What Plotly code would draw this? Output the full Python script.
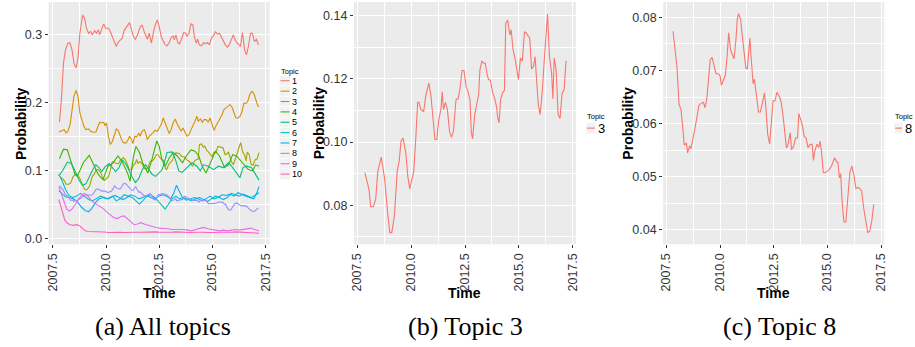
import plotly.graph_objects as go

# ---------------------------------------------------------------- data
topic_names = ["1", "2", "3", "4", "5", "6", "7", "8", "9", "10"]
topic_colors = ["#F8766D", "#D89000", "#A3A500", "#39B600", "#00BF7D",
                "#00BFC4", "#00B0F6", "#9590FF", "#E76BF3", "#FF62BC"]

x_tick_labels = ["2007.5", "2010.0", "2012.5", "2015.0", "2017.5"]
x_minor = [2008.75, 2011.25, 2013.75, 2016.25]
y_ticks_all = ["0.0", "0.1", "0.2", "0.3"]
y_minor_all = [0.05, 0.15, 0.25]
y_ticks_t3 = ["0.08", "0.10", "0.12", "0.14"]
y_minor_t3 = [0.07, 0.09, 0.11, 0.13]
y_ticks_t8 = ["0.04", "0.05", "0.06", "0.07", "0.08"]
y_minor_t8 = [0.045, 0.055, 0.065, 0.075]

t_topic1 = [2007.81, 2007.90, 2008.00, 2008.09, 2008.21, 2008.31, 2008.40, 2008.49, 2008.59, 2008.68,
            2008.77, 2008.90, 2008.99, 2009.08, 2009.18, 2009.27, 2009.36, 2009.46, 2009.55, 2009.64,
            2009.70, 2009.80, 2009.89, 2009.98, 2010.11, 2010.20, 2010.30, 2010.39, 2010.48, 2010.57,
            2010.67, 2010.76, 2010.85, 2010.98, 2011.10, 2011.20, 2011.29, 2011.38, 2011.48, 2011.60,
            2011.69, 2011.79, 2011.88, 2011.94, 2012.03, 2012.13, 2012.22, 2012.31, 2012.41, 2012.50,
            2012.59, 2012.69, 2012.78, 2012.87, 2012.97, 2013.06, 2013.15, 2013.21, 2013.28, 2013.37,
            2013.46, 2013.56, 2013.65, 2013.74, 2013.80, 2013.90, 2013.99, 2014.08, 2014.15, 2014.24,
            2014.30, 2014.39, 2014.49, 2014.58, 2014.67, 2014.77, 2014.86, 2014.95, 2015.05, 2015.14,
            2015.23, 2015.33, 2015.42, 2015.51, 2015.61, 2015.70, 2015.79, 2015.89, 2015.98, 2016.07,
            2016.16, 2016.26, 2016.32, 2016.41, 2016.51, 2016.60, 2016.69, 2016.79, 2016.88, 2016.97,
            2017.07, 2017.16]
p_topic1 = [0.1705, 0.204, 0.2574, 0.277, 0.2868, 0.2868, 0.277, 0.2574, 0.2501, 0.2648,
            0.3014, 0.3283, 0.3234, 0.3087, 0.3014, 0.3039, 0.299, 0.3053, 0.3014, 0.3063,
            0.299, 0.3087, 0.3151, 0.3087, 0.3087, 0.3039, 0.2965, 0.2892, 0.2819, 0.2882,
            0.2906, 0.2941, 0.3053, 0.3112, 0.317, 0.3063, 0.2965, 0.2926, 0.299, 0.3102,
            0.3136, 0.3039, 0.2975, 0.2926, 0.3014, 0.2868, 0.3014, 0.3136, 0.321, 0.3112,
            0.2965, 0.2892, 0.2843, 0.2828, 0.2877, 0.2951, 0.2975, 0.2916, 0.299, 0.2877,
            0.2858, 0.2941, 0.3024, 0.3014, 0.2965, 0.3014, 0.3151, 0.3136, 0.2965, 0.2868,
            0.2926, 0.2843, 0.2828, 0.2877, 0.2858, 0.2877, 0.2843, 0.2941, 0.2975, 0.3039,
            0.300, 0.3014, 0.2955, 0.2916, 0.2843, 0.2809, 0.2843, 0.2916, 0.299, 0.2916,
            0.2868, 0.2843, 0.2819, 0.3024, 0.277, 0.2697, 0.2819, 0.3014, 0.3014, 0.2892,
            0.2926, 0.2843]

t_topic2 = [2007.78, 2007.90, 2008.03, 2008.12, 2008.21, 2008.31, 2008.40, 2008.49, 2008.59, 2008.68,
            2008.77, 2008.87, 2008.96, 2009.05, 2009.18, 2009.27, 2009.39, 2009.52, 2009.61, 2009.70,
            2009.80, 2009.89, 2009.95, 2010.02, 2010.11, 2010.20, 2010.30, 2010.39, 2010.48, 2010.57,
            2010.67, 2010.76, 2010.85, 2010.95, 2011.04, 2011.10, 2011.20, 2011.26, 2011.35, 2011.44,
            2011.54, 2011.60, 2011.69, 2011.79, 2011.85, 2011.94, 2012.03, 2012.13, 2012.22, 2012.31,
            2012.41, 2012.50, 2012.59, 2012.69, 2012.78, 2012.87, 2012.97, 2013.06, 2013.15, 2013.25,
            2013.34, 2013.43, 2013.53, 2013.62, 2013.71, 2013.80, 2013.90, 2013.99, 2014.08, 2014.18,
            2014.27, 2014.33, 2014.43, 2014.52, 2014.61, 2014.71, 2014.80, 2014.89, 2014.98, 2015.08,
            2015.17, 2015.26, 2015.36, 2015.45, 2015.54, 2015.64, 2015.73, 2015.82, 2015.92, 2016.01,
            2016.10, 2016.20, 2016.29, 2016.38, 2016.48, 2016.57, 2016.66, 2016.75, 2016.85, 2016.94,
            2017.03, 2017.13, 2017.19]
p_topic2 = [0.1563, 0.1583, 0.1597, 0.1549, 0.1573, 0.1671, 0.1866, 0.2086, 0.2174, 0.2086,
            0.1842, 0.172, 0.1646, 0.1597, 0.1607, 0.1573, 0.1558, 0.1563, 0.1646, 0.1705,
            0.1695, 0.1705, 0.1656, 0.1695, 0.150, 0.1378, 0.1426, 0.1539, 0.1607, 0.1588,
            0.150, 0.1426, 0.1402, 0.1402, 0.1451, 0.150, 0.1451, 0.1392, 0.150, 0.149,
            0.1549, 0.150, 0.1573, 0.1597, 0.1558, 0.1451, 0.150, 0.1524, 0.1558, 0.1588,
            0.1573, 0.1622, 0.1671, 0.1768, 0.1705, 0.1622, 0.1539, 0.1597, 0.1695, 0.1754,
            0.1685, 0.1622, 0.1573, 0.1622, 0.1558, 0.150, 0.1524, 0.1597, 0.1656, 0.172,
            0.1793, 0.172, 0.1754, 0.1705, 0.1744, 0.1744, 0.1705, 0.1768, 0.1671, 0.1583,
            0.1656, 0.1705, 0.1768, 0.1817, 0.1891, 0.1915, 0.1939, 0.1964, 0.193, 0.1852,
            0.1768, 0.1768, 0.1793, 0.1852, 0.1988, 0.1978, 0.2013, 0.211, 0.2159, 0.2135,
            0.2037, 0.1949, 0.193]

t_topic3 = [2007.85, 2008.04, 2008.12, 2008.24, 2008.35, 2008.45, 2008.61, 2008.76, 2008.92, 2009.01,
            2009.10, 2009.22, 2009.35, 2009.44, 2009.53, 2009.62, 2009.75, 2009.84, 2009.93, 2010.02,
            2010.12, 2010.21, 2010.30, 2010.36, 2010.45, 2010.58, 2010.67, 2010.76, 2010.82, 2010.92,
            2011.01, 2011.10, 2011.19, 2011.28, 2011.38, 2011.44, 2011.50, 2011.59, 2011.68, 2011.78,
            2011.87, 2011.96, 2012.08, 2012.18, 2012.27, 2012.36, 2012.45, 2012.55, 2012.64, 2012.73,
            2012.79, 2012.85, 2012.95, 2013.04, 2013.13, 2013.19, 2013.28, 2013.38, 2013.44, 2013.53,
            2013.59, 2013.68, 2013.78, 2013.87, 2013.96, 2014.02, 2014.08, 2014.15, 2014.24, 2014.33,
            2014.39, 2014.48, 2014.58, 2014.64, 2014.73, 2014.82, 2014.92, 2014.98, 2015.07, 2015.16,
            2015.26, 2015.35, 2015.44, 2015.50, 2015.59, 2015.68, 2015.75, 2015.81, 2015.90, 2015.99,
            2016.08, 2016.18, 2016.27, 2016.33, 2016.42, 2016.52, 2016.58, 2016.64, 2016.73, 2016.82,
            2016.91, 2017.01, 2017.10, 2017.19]
p_topic3 = [0.0903, 0.085, 0.0795, 0.0795, 0.0818, 0.0908, 0.0952, 0.0887, 0.0766, 0.0713,
            0.0713, 0.0766, 0.0908, 0.0939, 0.1003, 0.1013, 0.0966, 0.0892, 0.0852, 0.0881,
            0.0908, 0.1008, 0.1126, 0.1126, 0.1103, 0.1097, 0.1145, 0.1171, 0.1187, 0.1145,
            0.1061, 0.1008, 0.1008, 0.1071, 0.1103, 0.1159, 0.1103, 0.1126, 0.1103, 0.1034,
            0.1015, 0.1034, 0.1134, 0.1138, 0.1171, 0.1227, 0.1227, 0.1174, 0.116, 0.1134,
            0.1031, 0.101, 0.1087, 0.1124, 0.115, 0.1229, 0.1256, 0.125, 0.125, 0.1213,
            0.1198, 0.1196, 0.1156, 0.114, 0.1113, 0.1076, 0.1061, 0.1134, 0.1156, 0.1164,
            0.1377, 0.1387, 0.134, 0.1356, 0.1292, 0.1266, 0.1229, 0.1198, 0.1266, 0.1256,
            0.135, 0.1345, 0.1335, 0.1331, 0.1232, 0.124, 0.1271, 0.1198, 0.1119, 0.1087,
            0.1156, 0.1261, 0.1356, 0.1406, 0.1271, 0.1219, 0.1137, 0.1266, 0.1229, 0.1087,
            0.1075, 0.1156, 0.1166, 0.1258]

t_topic4 = [2007.81, 2008.00, 2008.18, 2008.54, 2008.65, 2008.93, 2009.21, 2009.39, 2009.63, 2009.86,
            2010.09, 2010.33, 2010.56, 2010.79, 2011.02, 2011.13, 2011.29, 2011.41, 2011.57, 2011.72,
            2011.96, 2012.16, 2012.38, 2012.50, 2012.62, 2012.78, 2012.97, 2013.15, 2013.35, 2013.59,
            2013.77, 2013.99, 2014.18, 2014.36, 2014.52, 2014.70, 2014.91, 2015.14, 2015.33, 2015.57,
            2015.76, 2015.95, 2016.13, 2016.35, 2016.54, 2016.69, 2016.88, 2017.03, 2017.19]
p_topic4 = [0.117, 0.131, 0.130, 0.094, 0.091, 0.111, 0.122, 0.111, 0.094, 0.086,
            0.106, 0.111, 0.121, 0.111, 0.095, 0.084, 0.121, 0.135, 0.126, 0.111,
            0.096, 0.116, 0.143, 0.135, 0.116, 0.106, 0.118, 0.126, 0.121, 0.111,
            0.121, 0.130, 0.128, 0.121, 0.106, 0.096, 0.111, 0.128, 0.121, 0.104,
            0.108, 0.123, 0.121, 0.113, 0.106, 0.101, 0.099, 0.108, 0.106]

t_topic5 = [2007.78, 2007.97, 2008.18, 2008.37, 2008.56, 2008.74, 2008.90, 2009.05, 2009.21, 2009.36,
            2009.52, 2009.67, 2009.80, 2009.95, 2010.14, 2010.30, 2010.45, 2010.61, 2010.76, 2010.92,
            2011.07, 2011.23, 2011.38, 2011.54, 2011.69, 2011.85, 2012.00, 2012.16, 2012.33, 2012.64,
            2012.87, 2013.11, 2013.26, 2013.42, 2013.57, 2013.80, 2014.04, 2014.27, 2014.43, 2014.58,
            2014.81, 2015.05, 2015.28, 2015.51, 2015.75, 2015.90, 2016.13, 2016.29, 2016.44, 2016.60,
            2016.83, 2016.99, 2017.19]
p_topic5 = [0.092, 0.100, 0.112, 0.110, 0.098, 0.085, 0.078, 0.080, 0.090, 0.100,
            0.108, 0.104, 0.098, 0.105, 0.110, 0.104, 0.098, 0.104, 0.115, 0.110,
            0.100, 0.090, 0.082, 0.088, 0.100, 0.108, 0.102, 0.094, 0.091, 0.101,
            0.126, 0.127, 0.116, 0.099, 0.097, 0.104, 0.111, 0.106, 0.099, 0.108,
            0.106, 0.101, 0.106, 0.104, 0.111, 0.106, 0.096, 0.089, 0.104, 0.106,
            0.104, 0.096, 0.0855]

t_topic6 = [2007.78, 2007.93, 2008.09, 2008.25, 2008.43, 2008.62, 2008.80, 2008.99, 2009.18, 2009.36,
            2009.55, 2009.74, 2009.92, 2010.11, 2010.30, 2010.48, 2010.67, 2010.85, 2011.04, 2011.23,
            2011.41, 2011.57, 2011.72, 2011.91, 2012.10, 2012.28, 2012.44, 2012.62, 2012.78, 2012.93,
            2013.09, 2013.28, 2013.46, 2013.65, 2013.84, 2014.02, 2014.21, 2014.39, 2014.58, 2014.77,
            2014.95, 2015.14, 2015.33, 2015.51, 2015.70, 2015.89, 2016.07, 2016.26, 2016.44, 2016.63,
            2016.82, 2017.00, 2017.19]
p_topic6 = [0.094, 0.085, 0.072, 0.063, 0.060, 0.062, 0.066, 0.062, 0.057, 0.055,
            0.058, 0.062, 0.060, 0.058, 0.062, 0.055, 0.058, 0.064, 0.062, 0.060,
            0.055, 0.050, 0.055, 0.062, 0.064, 0.060, 0.055, 0.048, 0.043, 0.050,
            0.058, 0.062, 0.058, 0.060, 0.057, 0.055, 0.058, 0.060, 0.057, 0.054,
            0.058, 0.062, 0.060, 0.057, 0.060, 0.066, 0.064, 0.062, 0.065, 0.062,
            0.060, 0.063, 0.067]

t_topic7 = [2007.78, 2007.93, 2008.09, 2008.28, 2008.46, 2008.65, 2008.84, 2009.02, 2009.18, 2009.33,
            2009.49, 2009.67, 2009.86, 2010.05, 2010.23, 2010.42, 2010.61, 2010.79, 2010.98, 2011.16,
            2011.35, 2011.54, 2011.72, 2011.91, 2012.10, 2012.28, 2012.47, 2012.66, 2012.84, 2013.03,
            2013.18, 2013.31, 2013.43, 2013.59, 2013.77, 2013.96, 2014.15, 2014.33, 2014.52, 2014.70,
            2014.89, 2015.08, 2015.26, 2015.45, 2015.64, 2015.82, 2016.01, 2016.20, 2016.38, 2016.57,
            2016.75, 2016.94, 2017.10, 2017.19]
p_topic7 = [0.070, 0.065, 0.061, 0.060, 0.058, 0.054, 0.046, 0.041, 0.039, 0.044,
            0.052, 0.058, 0.060, 0.058, 0.060, 0.063, 0.060, 0.057, 0.060, 0.064,
            0.062, 0.058, 0.060, 0.063, 0.060, 0.058, 0.062, 0.064, 0.062, 0.058,
            0.066, 0.078, 0.070, 0.060, 0.056, 0.058, 0.060, 0.058, 0.055, 0.058,
            0.062, 0.058, 0.060, 0.064, 0.063, 0.065, 0.062, 0.067, 0.064, 0.062,
            0.060, 0.058, 0.068, 0.076]

t_topic8 = [2007.81, 2007.90, 2007.99, 2008.09, 2008.18, 2008.27, 2008.33, 2008.43, 2008.49, 2008.58,
            2008.64, 2008.73, 2008.83, 2008.92, 2009.01, 2009.14, 2009.23, 2009.29, 2009.38, 2009.48,
            2009.54, 2009.63, 2009.72, 2009.81, 2009.91, 2010.00, 2010.06, 2010.15, 2010.25, 2010.34,
            2010.40, 2010.49, 2010.59, 2010.65, 2010.74, 2010.80, 2010.86, 2010.96, 2011.02, 2011.11,
            2011.20, 2011.27, 2011.33, 2011.39, 2011.45, 2011.54, 2011.60, 2011.70, 2011.79, 2011.88,
            2011.98, 2012.07, 2012.13, 2012.22, 2012.31, 2012.41, 2012.47, 2012.56, 2012.65, 2012.75,
            2012.84, 2012.93, 2013.02, 2013.09, 2013.15, 2013.21, 2013.27, 2013.33, 2013.43, 2013.52,
            2013.61, 2013.67, 2013.77, 2013.83, 2013.92, 2014.01, 2014.10, 2014.20, 2014.29, 2014.35,
            2014.41, 2014.51, 2014.60, 2014.66, 2014.72, 2014.81, 2014.91, 2015.00, 2015.09, 2015.19,
            2015.28, 2015.34, 2015.43, 2015.49, 2015.56, 2015.62, 2015.68, 2015.77, 2015.86, 2015.96,
            2016.05, 2016.14, 2016.23, 2016.33, 2016.42, 2016.51, 2016.60, 2016.70, 2016.79, 2016.88,
            2016.98, 2017.07, 2017.16]
p_topic8 = [0.0774, 0.0739, 0.0708, 0.0636, 0.0627, 0.0589, 0.056, 0.0563, 0.0545, 0.0558,
            0.0553, 0.057, 0.0589, 0.0611, 0.0634, 0.0639, 0.064, 0.063, 0.0645, 0.0689,
            0.072, 0.0725, 0.0708, 0.0694, 0.0694, 0.069, 0.0672, 0.0683, 0.0692, 0.0733,
            0.0771, 0.0739, 0.0727, 0.0722, 0.0758, 0.0796, 0.0807, 0.0796, 0.0771, 0.0733,
            0.0705, 0.0703, 0.0727, 0.0761, 0.0724, 0.0675, 0.0684, 0.0652, 0.0622, 0.0622,
            0.0639, 0.0658, 0.0633, 0.058, 0.0562, 0.0608, 0.0643, 0.0643, 0.0659, 0.0652,
            0.0642, 0.0617, 0.0583, 0.0555, 0.0558, 0.0573, 0.0583, 0.0551, 0.0558, 0.0573,
            0.0573, 0.0619, 0.0608, 0.0598, 0.0576, 0.0573, 0.0555, 0.0561, 0.0561, 0.0531,
            0.0548, 0.0561, 0.0555, 0.0567, 0.0551, 0.0508, 0.0508, 0.0511, 0.0514, 0.052,
            0.0528, 0.0536, 0.0528, 0.0528, 0.0498, 0.0506, 0.0458, 0.0415, 0.0415, 0.0467,
            0.0508, 0.052, 0.0505, 0.0478, 0.048, 0.0478, 0.0473, 0.0439, 0.0414, 0.0395,
            0.0398, 0.0417, 0.0448]

t_topic9 = [2007.78, 2007.90, 2008.03, 2008.15, 2008.28, 2008.40, 2008.56, 2008.71, 2008.87, 2008.99,
            2009.15, 2009.30, 2009.49, 2009.67, 2009.86, 2010.05, 2010.23, 2010.39, 2010.54, 2010.70,
            2010.85, 2011.01, 2011.16, 2011.32, 2011.48, 2011.63, 2011.79, 2011.97, 2012.16, 2012.34,
            2012.53, 2012.72, 2012.90, 2013.09, 2013.28, 2013.46, 2013.65, 2013.84, 2014.02, 2014.21,
            2014.39, 2014.58, 2014.77, 2014.95, 2015.14, 2015.33, 2015.51, 2015.70, 2015.89, 2016.07,
            2016.26, 2016.44, 2016.63, 2016.82, 2016.97, 2017.19]
p_topic9 = [0.076, 0.065, 0.052, 0.043, 0.040, 0.043, 0.050, 0.058, 0.064, 0.066,
            0.062, 0.056, 0.051, 0.047, 0.044, 0.038, 0.034, 0.030, 0.029, 0.032,
            0.033, 0.029, 0.024, 0.020, 0.021, 0.023, 0.021, 0.019, 0.017, 0.016,
            0.015, 0.015, 0.014, 0.013, 0.013, 0.014, 0.013, 0.012, 0.011, 0.013,
            0.014, 0.016, 0.014, 0.013, 0.012, 0.011, 0.012, 0.011, 0.012, 0.013,
            0.012, 0.013, 0.014, 0.015, 0.013, 0.011]

t_topic10 = [2007.78, 2007.87, 2007.97, 2008.06, 2008.18, 2008.31, 2008.46, 2008.62, 2008.77, 2008.90,
             2009.02, 2009.18, 2009.36, 2009.55, 2009.74, 2009.92, 2010.11, 2010.30, 2010.48, 2010.67,
             2010.85, 2011.04, 2011.23, 2011.41, 2011.60, 2011.79, 2011.97, 2012.16, 2012.34, 2012.53,
             2012.72, 2012.90, 2013.09, 2013.28, 2013.46, 2013.65, 2013.84, 2014.02, 2014.21, 2014.39,
             2014.58, 2014.77, 2014.95, 2015.14, 2015.33, 2015.51, 2015.70, 2015.89, 2016.07, 2016.26,
             2016.44, 2016.63, 2016.82, 2017.00, 2017.19]
p_topic10 = [0.057, 0.048, 0.035, 0.027, 0.022, 0.020, 0.019, 0.020, 0.018, 0.014,
             0.011, 0.010, 0.010, 0.0095, 0.010, 0.0092, 0.0085, 0.009, 0.0095, 0.009,
             0.0085, 0.009, 0.0095, 0.009, 0.0088, 0.0092, 0.009, 0.0095, 0.0095, 0.009,
             0.0088, 0.0092, 0.009, 0.0095, 0.0092, 0.0088, 0.009, 0.0085, 0.009, 0.0095,
             0.009, 0.0085, 0.008, 0.0085, 0.009, 0.0088, 0.0082, 0.009, 0.0095, 0.0092,
             0.009, 0.0085, 0.0082, 0.0078, 0.0075]

topic_times = [t_topic1, t_topic2, t_topic3, t_topic4, t_topic5,
               t_topic6, t_topic7, t_topic8, t_topic9, t_topic10]
topic_probs = [p_topic1, p_topic2, p_topic3, p_topic4, p_topic5,
               p_topic6, p_topic7, p_topic8, p_topic9, p_topic10]

captions = ["(a) All topics", "(b) Topic 3", "(c) Topic 8"]

# ---------------------------------------------------------------- layout helpers
W, H = 915, 347
SANS = "Liberation Sans, Arial, Helvetica, sans-serif"
SERIF = "Liberation Serif, Times New Roman, serif"
PANEL_BG = "#EBEBEB"
TEXT = "#333333"


def fx(x):
    return x / W


def fy(y):
    return 1 - y / H


def x_axis(left, right, rng, anchor):
    return dict(domain=[fx(left), fx(right)], range=rng, anchor=anchor,
                tickmode="array", tickvals=[float(s) for s in x_tick_labels],
                ticktext=x_tick_labels, tickangle=-90,
                ticks="outside", ticklen=3, tickwidth=1, tickcolor=TEXT,
                tickfont=dict(family=SANS, size=12.5, color=TEXT),
                showgrid=True, gridcolor="white", gridwidth=1.2,
                minor=dict(tickvals=x_minor, showgrid=True, gridcolor="white",
                           gridwidth=0.6, ticks=""),
                zeroline=False, showline=False, fixedrange=True)


def y_axis(top, bottom, rng, labels, minor, anchor):
    return dict(domain=[fy(bottom), fy(top)], range=rng, anchor=anchor,
                tickmode="array", tickvals=[float(s) for s in labels],
                ticktext=labels,
                ticks="outside", ticklen=3, tickwidth=1, tickcolor=TEXT,
                tickfont=dict(family=SANS, size=12.5, color=TEXT),
                showgrid=True, gridcolor="white", gridwidth=1.2,
                minor=dict(tickvals=minor, showgrid=True, gridcolor="white",
                           gridwidth=0.6, ticks=""),
                zeroline=False, showline=False, fixedrange=True)


fig = go.Figure()

# panel (a): every topic
for name, color, t, p in zip(topic_names, topic_colors, topic_times, topic_probs):
    fig.add_trace(go.Scatter(x=t, y=p, mode="lines", name=name,
                             line=dict(color=color, width=1.1),
                             xaxis="x", yaxis="y", showlegend=False))

# panel (b): topic 3 alone, panel (c): topic 8 alone
fig.add_trace(go.Scatter(x=t_topic3, y=p_topic3, mode="lines", name="3",
                         line=dict(color=topic_colors[0], width=1.1),
                         xaxis="x2", yaxis="y2", showlegend=False))
fig.add_trace(go.Scatter(x=t_topic8, y=p_topic8, mode="lines", name="8",
                         line=dict(color=topic_colors[0], width=1.1),
                         xaxis="x3", yaxis="y3", showlegend=False))

annotations = []
shapes = []

# axis titles
for xc in (17, 318, 630):
    annotations.append(dict(x=fx(xc), y=fy(123.5), xref="paper", yref="paper",
                            text="<b>Probability</b>", textangle=-90, showarrow=False,
                            font=dict(family=SANS, size=14, color="black"),
                            xanchor="center", yanchor="middle"))
for xc in (156.5, 465, 776):
    annotations.append(dict(x=fx(xc), y=fy(294), xref="paper", yref="paper",
                            text="<b>Time</b>", showarrow=False,
                            font=dict(family=SANS, size=14, color="black"),
                            xanchor="center", yanchor="middle"))

# sub-figure captions
for xc, cap in zip((160, 466, 782), captions):
    annotations.append(dict(x=fx(xc), y=fy(327), xref="paper", yref="paper",
                            text=cap, showarrow=False,
                            font=dict(family=SERIF, size=26, color="black"),
                            xanchor="center", yanchor="middle"))


def legend(x0, y_title, y_first, step, names, colors, key_w, label_size):
    annotations.append(dict(x=fx(x0), y=fy(y_title), xref="paper", yref="paper",
                            text="Topic", showarrow=False,
                            font=dict(family=SANS, size=7.5, color="black"),
                            xanchor="left", yanchor="middle", borderpad=0))
    for i, (nm, col) in enumerate(zip(names, colors)):
        yc = y_first + i * step
        shapes.append(dict(type="rect", xref="paper", yref="paper",
                           x0=fx(x0), x1=fx(x0 + key_w),
                           y0=fy(yc + step / 2), y1=fy(yc - step / 2),
                           fillcolor="#F2F2F2", line=dict(color="white", width=0.6),
                           layer="below"))
        shapes.append(dict(type="line", xref="paper", yref="paper",
                           x0=fx(x0 + 1), x1=fx(x0 + key_w - 1),
                           y0=fy(yc), y1=fy(yc),
                           line=dict(color=col, width=1.1)))
        annotations.append(dict(x=fx(x0 + key_w + 1), y=fy(yc), xref="paper", yref="paper",
                                text=nm, showarrow=False,
                                font=dict(family=SANS, size=label_size, color="black"),
                                xanchor="left", yanchor="middle", borderpad=0))


legend(278, 72, 81, 10.4, topic_names, topic_colors, 11, 9)
legend(587, 117, 128.5, 11, ["3"], [topic_colors[0]], 10, 13)
legend(898, 117, 128.5, 11, ["8"], [topic_colors[0]], 9, 13)

fig.update_layout(
    width=W, height=H,
    margin=dict(l=0, r=0, t=0, b=0),
    paper_bgcolor="white", plot_bgcolor=PANEL_BG,
    showlegend=False,
    xaxis=x_axis(45, 268, [2007.30, 2017.69], "y"),
    yaxis=y_axis(2, 245, [-0.0088, 0.3473], y_ticks_all, y_minor_all, "x"),
    xaxis2=x_axis(353, 577, [2007.34, 2017.65], "y2"),
    yaxis2=y_axis(2, 245, [0.0676, 0.1444], y_ticks_t3, y_minor_t3, "x2"),
    xaxis3=x_axis(665, 888, [2007.35, 2017.65], "y3"),
    yaxis3=y_axis(2, 245, [0.0373, 0.0829], y_ticks_t8, y_minor_t8, "x3"),
    annotations=annotations,
    shapes=shapes,
)

fig.write_html("out.html")
